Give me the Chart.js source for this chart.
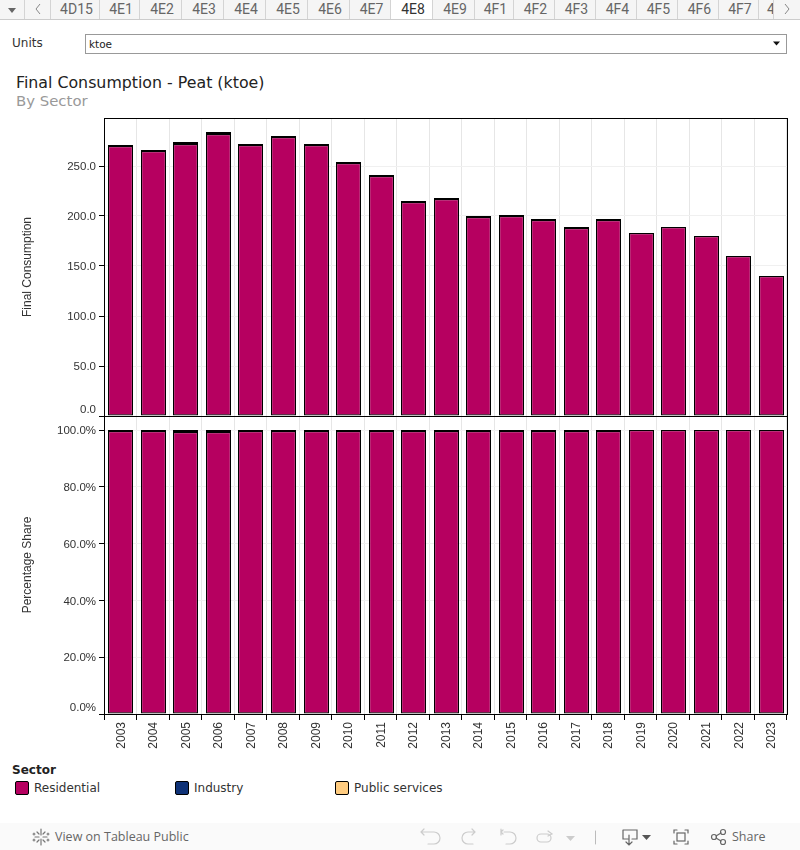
<!DOCTYPE html>
<html>
<head>
<meta charset="utf-8">
<title>Final Consumption - Peat (ktoe)</title>
<script src="https://cdn.jsdelivr.net/npm/chart.js"></script>
<style>
  html, body { margin: 0; padding: 0; background: #fff; }
  body { width: 800px; height: 850px; position: relative; overflow: hidden; font-family: "DejaVu Sans", sans-serif; }
  .abs { position: absolute; white-space: nowrap; }
  canvas { position: absolute; left: 0; }
  #tabs { position: absolute; left: 0; top: 0; width: 800px; height: 19px; background: #f5f5f5; border-bottom: 1px solid #ccc; overflow: hidden; }
  .tab { position: absolute; top: 0; height: 19px; padding-left: 3px; text-align: center; box-sizing: border-box; border-right: 1px solid #d4d4d4; color: #666; font: 14px/19px Roboto, sans-serif; overflow: hidden; }
  .tab.active { background: #fff; color: #333; height: 20px; }
  .tab.btn { padding-left: 0; }
  .tab.cut { padding-left: 8px; text-align: left; }
  #footer { position: absolute; left: 0; top: 823px; width: 800px; height: 27px; background: #fafafa; }
  #footer svg { position: absolute; left: 0; top: 0; }
  .swatch { position: absolute; width: 12px; height: 12px; border: 1px solid #000; border-radius: 2px; top: 781px; }
</style>
</head>
<body>
<div id="tabs"></div>
<div class="abs" style="left:12px;top:35px;font-size:12px;line-height:16px;color:#333">Units</div>
<div class="abs" style="left:85px;top:34px;width:700px;height:18px;border:1px solid #999"></div>
<div class="abs" style="left:89px;top:37px;font-size:10.5px;line-height:14px;color:#222">ktoe</div>
<svg class="abs" style="left:772px;top:40px" width="10" height="8"><path d="M1 1.5h7l-3.5 4z" fill="#111"/></svg>
<div class="abs" style="left:16px;top:73px;font-size:15.8px;line-height:20px;color:#222">Final Consumption - Peat (ktoe)</div>
<div class="abs" style="left:16px;top:92px;font-size:14.9px;line-height:18px;color:#999">By Sector</div>

<canvas id="valuePlot" style="top:100px" width="800" height="320"></canvas>
<canvas id="sharePlot" style="top:410px" width="800" height="340"></canvas>

<div class="abs" style="left:12px;top:762px;font-size:12px;line-height:16px;font-weight:bold;color:#222">Sector</div>
<div id="legend"></div>

<div id="footer">
  <svg width="800" height="27" fill="none" stroke-linecap="round">
    <g stroke="#777" stroke-width="1.2">
      <path d="M41 6v6M41 16v6M35 14h4M43 14h4M37 9l2 2M43 17l2 2M45 9l-2 2M39 17l-2 2M34 10v2M33 11h2M48 10v2M47 11h2M34 16v2M33 17h2M48 16v2M47 17h2"/>
    </g>
    <g stroke="#ccc" stroke-width="1.2">
      <path d="M421 9h13a6 6 0 0 1 0 12h-6M424 6l-3 3 3 3"/>
      <path d="M474 9h-6a6 6 0 0 0 0 12h5M472 6l3 3-3 3"/>
      <path d="M501 6v6M504 9h6a6 6 0 0 1 0 12h-4M503 7l-2 2 2 2"/>
      <rect x="537" y="11" width="14" height="8" rx="4"/>
      <path d="M548 8l4 3-4 2"/>
    </g>
    <path d="M566 13h9l-4.500 5z" fill="#ccc"/>
    <path d="M595.500 8v13" stroke="#bbb"/>
    <g stroke="#666" stroke-width="1.2">
      <path d="M623 7h14v9h-5M628 16h-5v-9M629 12v9M626 19l3 3 3-3"/>
      <path d="M674 10v-3h3M685 7h3v3M688 18v3h-3M677 21h-3v-3"/>
      <rect x="677" y="10" width="8" height="8"/>
      <circle cx="714" cy="14" r="2.500"/><circle cx="723" cy="9" r="2.500"/><circle cx="723" cy="19" r="2.500"/>
      <path d="M716 13l5-3M716 15l5 3"/>
    </g>
    <path d="M642 12h9l-4.500 5z" fill="#555"/>
  </svg>
  <div class="abs" style="left:55px;top:6px;font:12.5px/16px 'Open Sans',sans-serif;color:#666">View on Tableau Public</div>
  <div class="abs" style="left:732px;top:6px;font:12.5px/16px 'Open Sans',sans-serif;color:#666">Share</div>
</div>

<script>
// tab strip
const tabNames = ["4D15", "4E1", "4E2", "4E3", "4E4", "4E5", "4E6", "4E7", "4E8", "4E9", "4F1", "4F2", "4F3", "4F4", "4F5", "4F6", "4F7", "4"];
const activeTab = "4E8";
const tabEdges = [51, 100, 140, 182, 224, 266, 308, 350, 391, 433, 475, 514, 555, 596, 637, 678, 719, 759, 774];

// chart data
const years = ["2003", "2004", "2005", "2006", "2007", "2008", "2009", "2010", "2011", "2012", "2013",
               "2014", "2015", "2016", "2017", "2018", "2019", "2020", "2021", "2022", "2023"];
const residential = [270, 265, 272, 282, 271, 279, 271, 253, 240, 214, 217,
                     199, 200, 196, 188, 196, 183, 189, 180, 160, 140];
const industry = [1, 1, 1, 1, 1, 1, 1, 1, 1, 1, 1,
                  1, 1, 1, 1, 1, 0, 0, 0, 0, 0];
const publicServices = [0, 0, 1, 1, 0, 0, 0, 0, 0, 0, 0,
                        0, 0, 0, 0, 0, 0, 0, 0, 0, 0];
const residentialShare = [99.65, 99.65, 99.3, 99.3, 99.65, 99.65, 99.65, 99.65, 99.65, 99.65, 99.65,
                          99.65, 99.65, 99.65, 99.65, 99.65, 100, 100, 100, 100, 100];
const industryShare = [0.35, 0.35, 0.35, 0.35, 0.35, 0.35, 0.35, 0.35, 0.35, 0.35, 0.35,
                       0.35, 0.35, 0.35, 0.35, 0.35, 0, 0, 0, 0, 0];
const publicShare = [0, 0, 0.35, 0.35, 0, 0, 0, 0, 0, 0, 0,
                     0, 0, 0, 0, 0, 0, 0, 0, 0, 0];
const valueTicks = [0, 50, 100, 150, 200, 250];
const shareTicks = [0, 20, 40, 60, 80, 100];
const sectors = ["Residential", "Industry", "Public services"];
const sectorColors = ["#b60060", "#0f3277", "#ffcc80"];
const legendLeft = [15, 175, 335];

// header tabs (first two cells are the menu + back buttons)
const tabBar = document.getElementById("tabs");
tabBar.innerHTML =
  '<div class="tab btn" style="left:0;width:25px"><svg width="24" height="19"><path d="M8 8h8l-4 5z" fill="#666"/></svg></div>' +
  '<div class="tab btn" style="left:25px;width:26px"><svg width="24" height="19" fill="none" stroke="#888"><path d="M14 4l-4 5 4 5"/></svg></div>';
tabNames.forEach((name, i) => {
  let cls = name === activeTab ? "tab active" : "tab";
  if (i === tabNames.length - 1) cls += " cut"; // last tab is cut off by the arrow
  tabBar.innerHTML += `<div class="${cls}" style="left:${tabEdges[i]}px;width:${tabEdges[i + 1] - tabEdges[i]}px">${name}</div>`;
});
tabBar.innerHTML += '<div class="tab btn" style="left:774px;width:26px;border-right:0"><svg width="26" height="19" fill="none" stroke="#888"><path d="M11 4l4 5-4 5"/></svg></div>';

// sector legend
const legendBox = document.getElementById("legend");
sectors.forEach((name, i) => {
  legendBox.innerHTML += `<div class="swatch" style="left:${legendLeft[i]}px;background:${sectorColors[i]}"></div>` +
    `<div class="abs" style="left:${legendLeft[i] + 19}px;top:780px;font-size:12px;line-height:16px;color:#333">${name}</div>`;
});

// Chart.js has no closed plot frame, so add the top and right lines by hand
const frameLines = {
  id: "frameLines",
  afterDraw(chart) {
    const { ctx, chartArea: a } = chart;
    ctx.save();
    ctx.strokeStyle = "#000";
    ctx.lineWidth = 1;
    ctx.beginPath();
    ctx.moveTo(a.left, a.top + 0.5);
    ctx.lineTo(a.right + 1, a.top + 0.5);
    ctx.moveTo(a.right + 0.5, a.top);
    ctx.lineTo(a.right + 0.5, a.bottom);
    ctx.stroke();
    ctx.restore();
  }
};

// keep bar sides on whole pixels, otherwise the black outlines go grey
const snapBars = {
  id: "snapBars",
  afterDatasetsUpdate(chart) {
    chart.getSortedVisibleDatasetMetas().forEach(meta => {
      meta.data.forEach(bar => {
        const w = Math.round(bar.width);
        bar.x = Math.ceil(bar.x - bar.width / 2) + w / 2;
        bar.width = w;
      });
    });
  }
};

const tickFont = { family: "'Liberation Sans'", size: 11.5 };
const yearFont = { family: "'Liberation Sans'", size: 12 };

function barSet(label, values, color) {
  return {
    label: label,
    data: values,
    backgroundColor: color,
    borderColor: "#000",
    borderWidth: 1.2,
    borderSkipped: false,
    inflateAmount: 0,
    barPercentage: 0.76,
    categoryPercentage: 1
  };
}

function makePlot(id, opts) {
  new Chart(document.getElementById(id), {
    type: "bar",
    data: {
      labels: years,
      datasets: opts.series.map((values, i) => barSet(sectors[i], values, sectorColors[i]))
    },
    plugins: [snapBars, frameLines],
    options: {
      responsive: false,
      animation: false,
      layout: { autoPadding: false, padding: { top: opts.padTop, right: 13, bottom: opts.padBottom, left: 0 } },
      plugins: { legend: { display: false }, tooltip: { enabled: false } },
      scales: {
        x: {
          stacked: true,
          afterFit: scale => {
            scale.height = opts.xHeight;
            scale.paddingLeft = scale.paddingRight = 0;
          },
          grid: { offset: true, color: "#e6e6e6", tickColor: "#000", drawTicks: opts.showYears, tickLength: 6 },
          border: { color: "#000" },
          ticks: { display: opts.showYears, autoSkip: false, minRotation: 90, maxRotation: 90, padding: 2, labelOffset: 1, color: "#333", font: yearFont }
        },
        y: {
          stacked: true,
          min: 0,
          max: opts.max,
          afterBuildTicks: scale => { scale.ticks = opts.ticks.map(v => ({ value: v })); },
          afterFit: scale => {
            scale.width = 104;
            scale.paddingTop = scale.paddingBottom = 0;
          },
          title: { display: true, text: opts.title, color: "#333", font: { family: "'Liberation Sans'", size: 12 }, padding: { top: 20, bottom: 0 } },
          grid: { color: "#f0f0f0", tickColor: "#000", tickLength: 5 },
          border: { color: "#000" },
          ticks: {
            padding: 3,
            labelOffset: 1,
            color: "#333",
            font: tickFont,
            callback: opts.tickText
          }
        }
      }
    }
  });
}

makePlot("valuePlot", {
  series: [residential, industry, publicServices],
  ticks: valueTicks,
  title: "Final Consumption",
  max: 298,
  padTop: 18,
  padBottom: 4,
  xHeight: 0,
  showYears: false,
  // the extra empty line lifts the zero label above its tick, as in the original
  tickText: v => (v === 0 ? ["0.0", ""] : v.toFixed(1))
});

makePlot("sharePlot", {
  series: [residentialShare, industryShare, publicShare],
  ticks: shareTicks,
  title: "Percentage Share",
  max: 104.93,
  padTop: 6,
  padBottom: 0,
  xHeight: 36,
  showYears: true,
  tickText: v => (v === 0 ? ["0.0%", ""] : v.toFixed(1) + "%")
});
</script>
</body>
</html>
